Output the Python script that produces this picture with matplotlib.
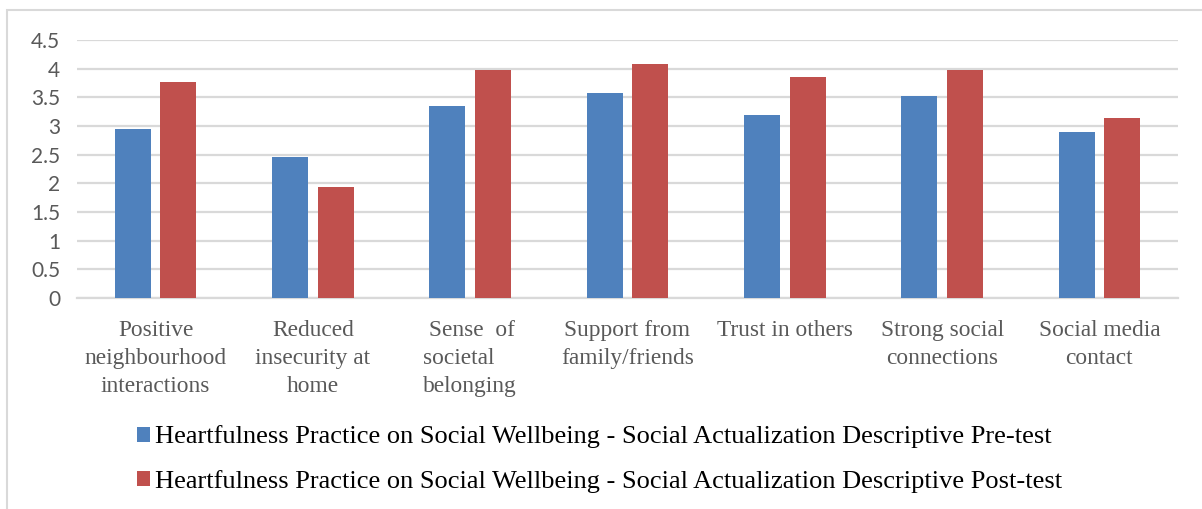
import numpy as np
import matplotlib
matplotlib.use('Agg')
import matplotlib.pyplot as plt
from matplotlib.patches import Rectangle, Patch

# Social actualization scores, pre vs post heartfulness practice
categories = [
    'Positive\nneighbourhood\ninteractions',
    'Reduced\ninsecurity at\nhome',
    ' Sense  of\nsocietal\nbelonging',
    'Support from\nfamily/friends',
    'Trust in others',
    'Strong social\nconnections',
    'Social media\ncontact',
]
pre_test = [2.95, 2.46, 3.35, 3.58, 3.19, 3.52, 2.90]
post_test = [3.77, 1.94, 3.98, 4.08, 3.85, 3.98, 3.14]
series_names = [
    'Heartfulness Practice on Social Wellbeing - Social Actualization Descriptive Pre-test',
    'Heartfulness Practice on Social Wellbeing - Social Actualization Descriptive Post-test',
]
yticks = [0, 0.5, 1, 1.5, 2, 2.5, 3, 3.5, 4, 4.5]
yticklabels = ['0', '0.5', '1', '1.5', '2', '2.5', '3', '3.5', '4', '4.5']

BLUE = '#4F81BD'
RED = '#C0504D'
GRID = '#D9D9D9'
TXT = '#595959'
SERIF = 'Liberation Serif'

W, H = 1202, 509
fig = plt.figure(figsize=(W / 100, H / 100), dpi=100)

# outer chart frame (only top and left edges fall inside the image)
fig.patches.append(Rectangle((7 / W, -0.1), 1.2, (H - 10) / H + 0.1,
                             transform=fig.transFigure, fill=False,
                             edgecolor=GRID, linewidth=1.5))

ax = fig.add_axes([77 / W, 1 - 298 / H, (1178 - 77) / W, (298 - 40) / H])
x = np.arange(len(categories))
bw = 0.229
off = 0.145
ax.bar(x - off, pre_test, width=bw, color=BLUE, zorder=3)
ax.bar(x + off, post_test, width=bw, color=RED, zorder=3)

ax.set_xlim(-0.5, len(categories) - 0.5)
ax.set_ylim(0, 4.5)
ax.set_yticks(yticks)
ax.set_yticklabels(yticklabels, fontfamily='Lato', fontsize=15, color=TXT)
ax.yaxis.grid(True, color=GRID, linewidth=1.6, zorder=0)
ax.tick_params(axis='y', length=0, pad=12)

ax.set_xticks(x)
labels = ax.set_xticklabels(categories, fontfamily=SERIF, fontsize=16.8,
                            color=TXT, linespacing=1.44)
# the "Sense of" label is a justified block in the source
labels[2].set_multialignment('left')
ax.tick_params(axis='x', length=0, pad=16)

for side in ['top', 'right', 'left']:
    ax.spines[side].set_visible(False)
ax.spines['bottom'].set_color(GRID)
ax.spines['bottom'].set_linewidth(1.6)

handles = [Patch(facecolor=BLUE), Patch(facecolor=RED)]
fig.legend(handles, series_names, loc='center left',
           bbox_to_anchor=(137 / W, 1 - 459 / H), frameon=False,
           prop={'family': SERIF, 'size': 19},
           handlelength=0.5, handleheight=0.5, handletextpad=0.2,
           labelspacing=0.8, borderpad=0, borderaxespad=0)

fig.savefig('out.png', dpi=100, facecolor='white')
